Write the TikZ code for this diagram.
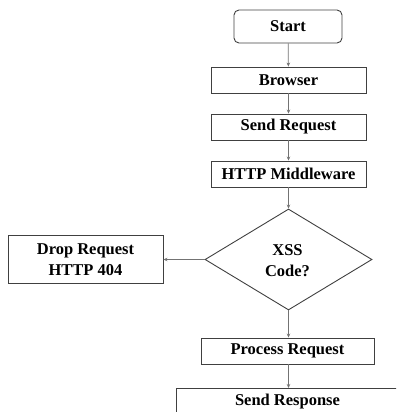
\documentclass[tikz,border=0pt]{standalone}
\usepackage{fontspec}
\setmainfont{Liberation Serif}
\usetikzlibrary{shapes.geometric,arrows.meta}
\begin{document}
\begin{tikzpicture}[x=1pt,y=1pt,
  box/.style={draw=black!75,line width=0.9pt,inner sep=0pt,font=\fontsize{16.5}{21}\selectfont\bfseries,align=center},
  conn/.style={draw=black!55,line width=0.8pt,-{Stealth[length=4pt,width=3.5pt]}}]
\clip (0,0) rectangle (396,-412);
\useasboundingbox (0,0) rectangle (396,-412);
\node[box,rounded corners=5pt,minimum width=108,minimum height=33] (start) at (288,-26.5) {Start};
\node[box,minimum width=155,minimum height=26] (browser) at (288.5,-80) {Browser};
\node[box,minimum width=155,minimum height=26] (send) at (288.5,-127) {Send Request};
\node[box,minimum width=155,minimum height=26] (mid) at (288.5,-174) {HTTP Middleware};
\node[box,diamond,minimum width=167,minimum height=101] (xss) at (288.5,-259.5) {};
\node[box,draw=none,minimum width=0,minimum height=0] at (287.5,-260.5) {XSS\\Code?};
\node[box,minimum width=155,minimum height=48] (drop) at (85.5,-259.5) {Drop Request\\HTTP 404};
\node[box,minimum width=173,minimum height=26] (proc) at (287.5,-351) {Process Request};
\node[box,minimum width=222,minimum height=40,anchor=north west] (resp) at (176,-388) {};
\node[font=\fontsize{16.5}{21}\selectfont\bfseries] (resptxt) at (287.5,-402) {Send Response};
\coordinate (rt) at (288.5,-388);
\draw[conn] (start) -- (browser);
\draw[conn] (browser) -- (send);
\draw[conn] (send) -- (mid);
\draw[conn] (mid.south) -- (xss.north);
\draw[conn] (xss.west) -- (drop.east |- xss.west);
\draw[conn] (xss.south) -- (xss.south |- proc.north);
\draw[conn] (xss.south |- proc.south) -- (rt);
\end{tikzpicture}
\end{document}
